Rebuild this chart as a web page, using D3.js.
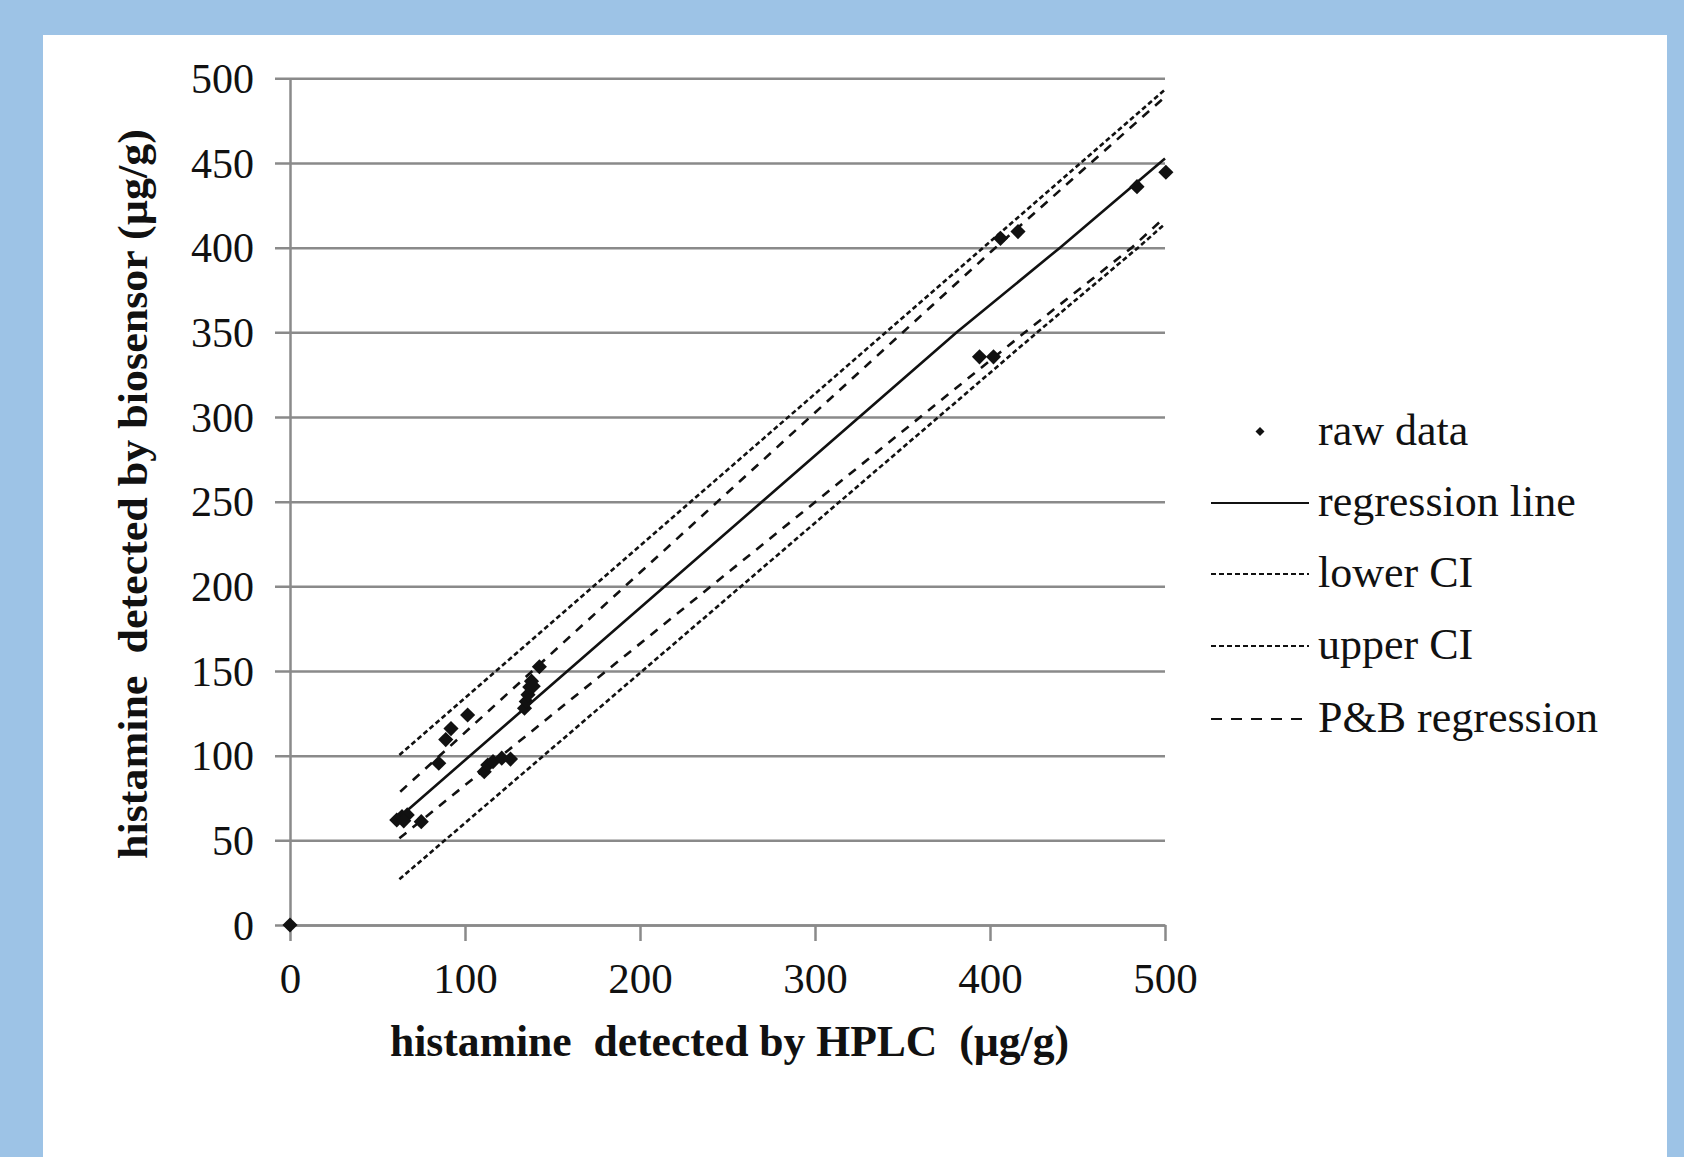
<!DOCTYPE html>
<html>
<head>
<meta charset="utf-8">
<script src="https://cdn.jsdelivr.net/npm/d3@7"></script>
<style>
body { margin: 0; background: #9dc3e6; }
svg { display: block; }
text { font-family: "Liberation Serif", "Times New Roman", serif; fill: #111; white-space: pre; }
</style>
</head>
<body>
<script>
// values
var xTicks = [0, 100, 200, 300, 400, 500]
var yTicks = [0, 50, 100, 150, 200, 250, 300, 350, 400, 450, 500]

var rawHplc = [0, 61, 64, 67, 65, 75, 85, 89, 92, 101.5, 111, 113, 116, 121, 126,
    134, 135, 136, 137, 138, 139, 142.5, 394, 402, 406, 416, 484, 500.5]
var rawSensor = [0, 62, 64, 65, 61.5, 61, 95.5, 109.5, 116, 124, 90.5, 94.5, 96.5, 98.5, 98,
    128, 132, 136, 140.5, 144, 141, 152.5, 335.5, 335.5, 405.5, 409.5, 436, 444.5]

var regressionX = [64, 381, 440, 500]
var regressionY = [65, 350, 400, 452.6]
var lowerCiX = [62.5, 427, 484.6, 500]
var lowerCiY = [27, 350, 400, 414]
var upperCiX = [62.5, 398, 500]
var upperCiY = [100.4, 401.7, 493.3]
var pbUpperX = [63, 401, 500]
var pbUpperY = [78.7, 398, 489]
var pbLowerX = [62.5, 420, 481, 500]
var pbLowerY = [51.2, 350, 400, 418]

var legendLabels = ['raw data', 'regression line', 'lower CI', 'upper CI', 'P&B regression']

var W = 1684, H = 1157
var plot = { left: 290, right: 1165, top: 78.3, bottom: 925 }

var svg = d3.select('body').append('svg')
    .attr('width', W)
    .attr('height', H)

svg.append('rect')
    .attr('x', 43).attr('y', 35)
    .attr('width', 1624).attr('height', H - 35)
    .attr('fill', '#fff')

var x = d3.scaleLinear().domain([0, 500]).range([plot.left, plot.right])
var y = d3.scaleLinear().domain([0, 500]).range([plot.bottom, plot.top])

var gridColor = '#8a8a8a'

// y axis with gridlines
var yAxis = d3.axisLeft(y)
    .tickValues(yTicks)
    .tickSize(-(plot.right - plot.left))
    .tickSizeOuter(0)
    .tickPadding(0)

var gy = svg.append('g')
    .attr('transform', 'translate(' + plot.left + ',0)')
    .call(yAxis)
gy.select('.domain').attr('stroke', gridColor).attr('stroke-width', 2.5)
gy.selectAll('.tick line')
    .attr('x1', -15)
    .attr('stroke', gridColor)
    .attr('stroke-width', 2.5)
gy.selectAll('.tick text')
    .attr('x', -36)
    .attr('dy', '0.34em')
    .style('font-family', '"Liberation Serif", serif')
    .style('font-size', '42px')
    .attr('fill', '#111')

// x axis
var xAxis = d3.axisBottom(x)
    .tickValues(xTicks)
    .tickSize(16)
    .tickSizeOuter(0)
    .tickPadding(0)

var gx = svg.append('g')
    .attr('transform', 'translate(0,' + plot.bottom + ')')
    .call(xAxis)
gx.select('.domain').attr('stroke', gridColor).attr('stroke-width', 2.5)
gx.selectAll('.tick line').attr('stroke', gridColor).attr('stroke-width', 2.5)
gx.selectAll('.tick text')
    .attr('y', 68)
    .attr('dy', 0)
    .style('font-family', '"Liberation Serif", serif')
    .style('font-size', '43px')
    .attr('fill', '#111')

// axis titles
svg.append('text')
    .attr('x', 729.5)
    .attr('y', 1056)
    .attr('text-anchor', 'middle')
    .attr('textLength', 679)
    .attr('lengthAdjust', 'spacingAndGlyphs')
    .style('font-size', '44px')
    .style('font-weight', 'bold')
    .text('histamine  detected by HPLC  (µg/g)')

svg.append('text')
    .attr('transform', 'translate(147,494) rotate(-90)')
    .attr('text-anchor', 'middle')
    .attr('textLength', 730)
    .attr('lengthAdjust', 'spacingAndGlyphs')
    .style('font-size', '42px')
    .style('font-weight', 'bold')
    .text('histamine  detected by biosensor (µg/g)')

// lines
var line = d3.line()
    .x(function (d) { return x(d[0]) })
    .y(function (d) { return y(d[1]) })

var series = [
    { xs: upperCiX, ys: upperCiY, dash: '5,3' },
    { xs: lowerCiX, ys: lowerCiY, dash: '5,3' },
    { xs: pbUpperX, ys: pbUpperY, dash: '9,8' },
    { xs: pbLowerX, ys: pbLowerY, dash: '9,8' },
    { xs: regressionX, ys: regressionY, dash: null }
]

svg.append('g').selectAll('path')
    .data(series)
    .enter().append('path')
    .attr('d', function (s) { return line(d3.zip(s.xs, s.ys)) })
    .attr('fill', 'none')
    .attr('stroke', '#111')
    .attr('stroke-width', 2.6)
    .attr('stroke-dasharray', function (s) { return s.dash })

// raw data points
var diamond = d3.symbol().type(d3.symbolSquare).size(115)
svg.append('g').selectAll('path')
    .data(d3.zip(rawHplc, rawSensor))
    .enter().append('path')
    .attr('d', diamond)
    .attr('transform', function (d) {
        return 'translate(' + x(d[0]) + ',' + y(d[1]) + ') rotate(45)'
    })
    .attr('fill', '#111')

// legend
var legendY = [431.5, 503, 574, 646, 719]
var legend = svg.append('g')
var lx0 = 1211, lx1 = 1309, textX = 1318

legend.append('path')
    .attr('d', d3.symbol().type(d3.symbolSquare).size(40)())
    .attr('transform', 'translate(1260,' + legendY[0] + ') rotate(45)')
    .attr('fill', '#111')

var legendDash = [null, null, '5,3', '5,3', '11,9']
legendDash.forEach(function (dash, i) {
    if (i === 0) return
    legend.append('line')
        .attr('x1', lx0).attr('x2', lx1)
        .attr('y1', legendY[i]).attr('y2', legendY[i])
        .attr('stroke', '#111')
        .attr('stroke-width', 2.2)
        .attr('stroke-dasharray', dash)
})

legend.selectAll('text')
    .data(legendLabels)
    .enter().append('text')
    .attr('x', textX)
    .attr('y', function (d, i) { return legendY[i] + 13 })
    .style('font-size', '44px')
    .text(function (d) { return d })
</script>
</body>
</html>
